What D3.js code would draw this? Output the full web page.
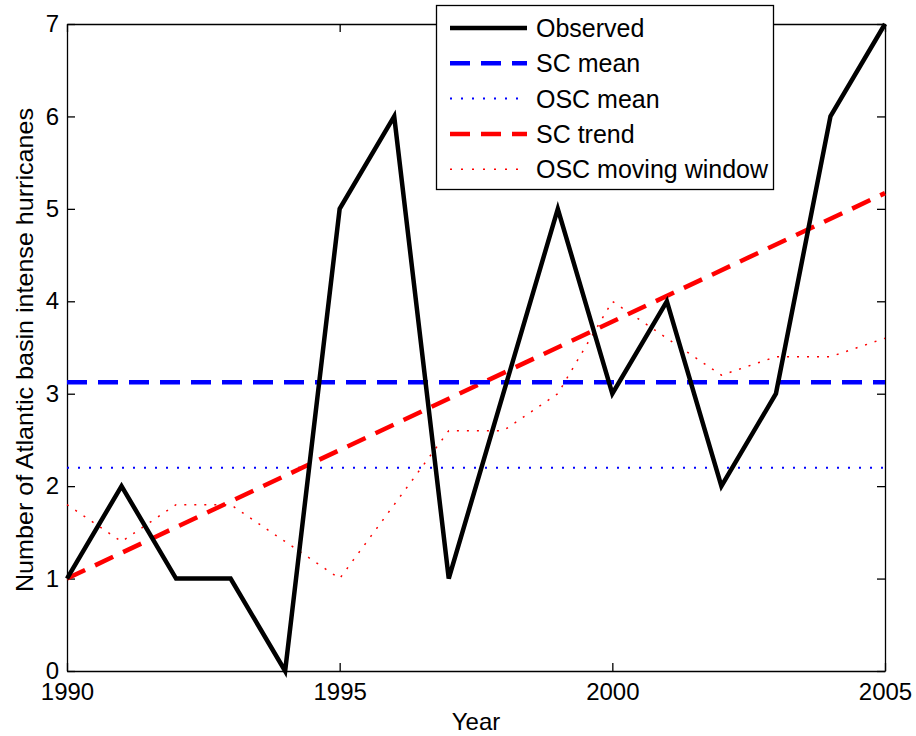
<!DOCTYPE html>
<html>
<head>
<meta charset="utf-8">
<script src="https://cdn.jsdelivr.net/npm/d3@7"></script>
<style>
body { margin: 0; background: #fff; }
text { font-family: "Liberation Sans", Arial, sans-serif; }
</style>
</head>
<body>
<svg width="916" height="736"></svg>
<script>
var years = [1990,1991,1992,1993,1994,1995,1996,1997,1998,1999,2000,2001,2002,2003,2004,2005];
var observed = [1,2,1,1,0,5,6,1,3,5,3,4,2,3,6,7];
var oscWindow = [1.8,1.4,1.8,1.8,1.4,1.0,1.8,2.6,2.6,3.0,4.0,3.6,3.2,3.4,3.4,3.6];
var scMean = 3.125;
var oscMean = 2.2;
var scTrend = [1.0, 5.17]; // value at first and last year
var xTicks = [1990,1995,2000,2005];
var yTicks = [0,1,2,3,4,5,6,7];
var legendLabels = ["Observed","SC mean","OSC mean","SC trend","OSC moving window"];

var plotLeft = 67, plotRight = 885, plotTop = 24, plotBottom = 671;

var svg = d3.select("svg");
var x = d3.scaleLinear().domain([1990,2005]).range([plotLeft,plotRight]);
var y = d3.scaleLinear().domain([0,7]).range([plotBottom,plotTop]);

//Axes, matlab style: ticks inward on all four sides
var ax = svg.append("g");
ax.append("g").attr("transform","translate(0,"+plotBottom+")")
  .call(d3.axisBottom(x).tickValues(xTicks).tickFormat(d3.format("d")).tickSizeInner(-8).tickSizeOuter(0).tickPadding(12));
ax.append("g").attr("transform","translate(0,"+plotTop+")")
  .call(d3.axisTop(x).tickValues(xTicks).tickFormat("").tickSizeInner(-8).tickSizeOuter(0));
ax.append("g").attr("transform","translate("+plotLeft+",0)")
  .call(d3.axisLeft(y).tickValues(yTicks).tickFormat(d3.format("d")).tickSizeInner(-8).tickSizeOuter(0).tickPadding(8));
ax.append("g").attr("transform","translate("+plotRight+",0)")
  .call(d3.axisRight(y).tickValues(yTicks).tickFormat("").tickSizeInner(-8).tickSizeOuter(0));
ax.selectAll("text").attr("fill","#000").attr("font-family","Liberation Sans, Arial, sans-serif").attr("font-size",24);
ax.selectAll("path,line").attr("stroke","#000").attr("stroke-width",1.3);

var lineGen = d3.line().x(function(d){ return x(d[0]); }).y(function(d){ return y(d[1]); });

//Series, drawn back to front
svg.append("path").datum(years.map(function(yr,i){ return [yr, oscWindow[i]]; }))
  .attr("d",lineGen).attr("fill","none").attr("stroke","#ff0000").attr("stroke-width",1.5).attr("stroke-dasharray","2,8");
svg.append("path").datum([[1990,oscMean],[2005,oscMean]])
  .attr("d",lineGen).attr("fill","none").attr("stroke","#0000ff").attr("stroke-width",2).attr("stroke-dasharray","2,9");
svg.append("path").datum([[1990,scTrend[0]],[2005,scTrend[1]]])
  .attr("d",lineGen).attr("fill","none").attr("stroke","#ff0000").attr("stroke-width",4.5).attr("stroke-dasharray","20,11");
svg.append("path").datum([[1990,scMean],[2005,scMean]])
  .attr("d",lineGen).attr("fill","none").attr("stroke","#0000ff").attr("stroke-width",4.5).attr("stroke-dasharray","20,11");
svg.append("path").datum(years.map(function(yr,i){ return [yr, observed[i]]; }))
  .attr("d",lineGen).attr("fill","none").attr("stroke","#000").attr("stroke-width",4.5).attr("stroke-linejoin","miter");

//Axis labels
svg.append("text").attr("x",(plotLeft+plotRight)/2).attr("y",730).attr("text-anchor","middle")
  .attr("font-size",24).text("Year");
svg.append("text").attr("transform","translate(33,350) rotate(-90)")
  .attr("text-anchor","middle").attr("font-size",24)
  .attr("textLength",484).attr("lengthAdjust","spacingAndGlyphs")
  .text("Number of Atlantic basin intense hurricanes");

//Legend
var styles = [
  {c:"#000", w:4.5, d:null},
  {c:"#0000ff", w:4.5, d:"20,11"},
  {c:"#0000ff", w:2, d:"2,9"},
  {c:"#ff0000", w:4.5, d:"20,11"},
  {c:"#ff0000", w:1.5, d:"2,9"}
];
var lg = svg.append("g");
lg.append("rect").attr("x",436.5).attr("y",5.5).attr("width",337).attr("height",184)
  .attr("fill","#fff").attr("stroke","#000").attr("stroke-width",1.3);
legendLabels.forEach(function(lab,i){
  var ly = 28 + i*35.3;
  lg.append("line").attr("x1",450).attr("x2",527).attr("y1",ly).attr("y2",ly)
    .attr("stroke",styles[i].c).attr("stroke-width",styles[i].w)
    .attr("stroke-dasharray",styles[i].d);
  lg.append("text").attr("x",536).attr("y",ly+9).attr("font-size",25).text(lab);
});
</script>
</body>
</html>
